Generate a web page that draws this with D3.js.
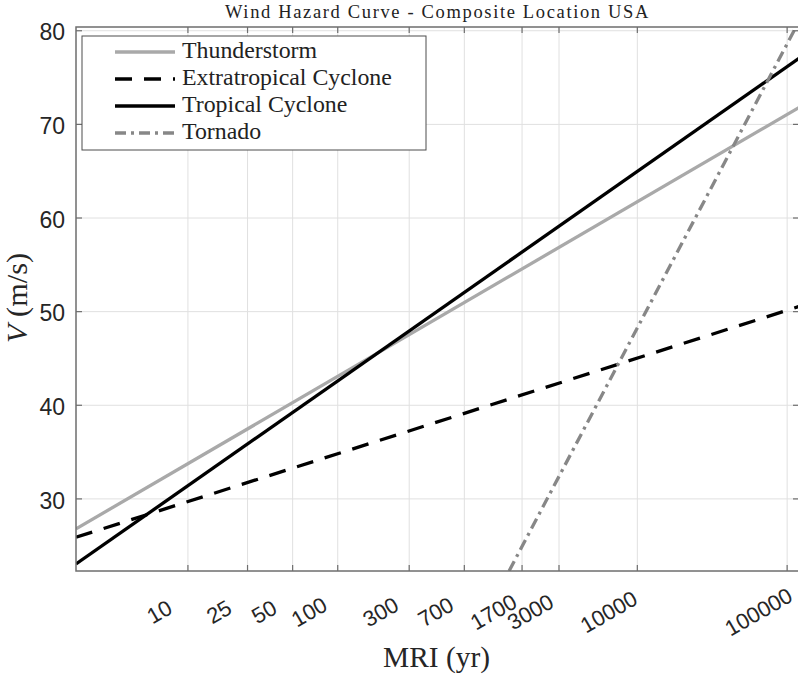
<!DOCTYPE html>
<html>
<head>
<meta charset="utf-8">
<script src="https://cdn.jsdelivr.net/npm/d3@7"></script>
<style>
  html, body { margin: 0; padding: 0; background: #fff; }
  svg { display: block; }
</style>
</head>
<body>
<svg id="chart" width="798" height="677"></svg>
<script>
// ---------------- data ----------------
const xDomain = [1.79, 120000];
const yDomain = [22.3, 80.4];
const xTickValues = [10, 25, 50, 100, 300, 700, 1700, 3000, 10000, 100000];
const xTickLabels = ["10", "25", "50", "100", "300", "700", "1700", "3000", "10000", "100000"];
const yTickValues = [30, 40, 50, 60, 70, 80];
const seriesNames = ["Thunderstorm", "Extratropical Cyclone", "Tropical Cyclone", "Tornado"];
const thunderstormMRI = [1.79, 120000];
const thunderstormV = [26.8, 71.8];
const extratropicalMRI = [1.79, 120000];
const extratropicalV = [25.9, 50.55];
const tropicalMRI = [1.79, 120000];
const tropicalV = [23.05, 77.05];
const tornadoMRI = [1393, 120000];
const tornadoV = [22.3, 81.0];
const titleText = "Wind Hazard Curve - Composite Location USA";

// ---------------- layout / style ----------------
const L = 76, R = 799, T = 27, B = 571;
const styles = [
  { color: "#a9a9a9", dash: null },
  { color: "#000000", dash: "17,12" },
  { color: "#000000", dash: null },
  { color: "#878787", dash: "11,5,3,5" }
];
const seriesData = [
  d3.zip(thunderstormMRI, thunderstormV),
  d3.zip(extratropicalMRI, extratropicalV),
  d3.zip(tropicalMRI, tropicalV),
  d3.zip(tornadoMRI, tornadoV)
];

const svg = d3.select("#chart");
const x = d3.scaleLog().domain(xDomain).range([L, R]);
const y = d3.scaleLinear().domain(yDomain).range([B, T]);

const serif = "'Liberation Serif', 'Times New Roman', serif";
const sans = "'Liberation Sans', Arial, Helvetica, sans-serif";

function fitWidth(sel, w) {
  const n = sel.node();
  const l = n.getComputedTextLength();
  const fs = parseFloat(sel.attr("font-size"));
  const nfs = fs * w / l;
  sel.attr("font-size", nfs);
  return nfs;
}
function spaceToWidth(sel, w) {
  const n = sel.node();
  const l = n.getComputedTextLength();
  const chars = sel.text().length;
  sel.attr("letter-spacing", (w - l) / chars);
}

svg.append("defs").append("clipPath").attr("id", "plotclip")
  .append("rect").attr("x", L).attr("y", T).attr("width", R - L).attr("height", B - T);

// grid
const grid = svg.append("g");
grid.selectAll("line.gx").data(xTickValues).enter().append("line")
  .attr("x1", d => x(d)).attr("x2", d => x(d)).attr("y1", T).attr("y2", B)
  .attr("stroke", "#e0e0e0").attr("stroke-width", 1);
grid.selectAll("line.gy").data(yTickValues).enter().append("line")
  .attr("x1", L).attr("x2", R).attr("y1", d => y(d)).attr("y2", d => y(d))
  .attr("stroke", "#e0e0e0").attr("stroke-width", 1);

// lines
const line = d3.line().x(d => x(d[0])).y(d => y(d[1]));
const lines = svg.append("g").attr("clip-path", "url(#plotclip)");
seriesData.forEach((data, i) => {
  lines.append("path").datum(data).attr("d", line)
    .attr("fill", "none").attr("stroke", styles[i].color)
    .attr("stroke-width", 3.3)
    .attr("stroke-dasharray", styles[i].dash);
});

// axes (box with inward ticks)
const axisColor = "#6e6e6e";
const tickLen = 6;
const ax = svg.append("g");
ax.selectAll("line.tb").data(xTickValues).enter().append("line")
  .attr("x1", d => x(d)).attr("x2", d => x(d)).attr("y1", B).attr("y2", B - tickLen)
  .attr("stroke", axisColor).attr("stroke-width", 1.2);
ax.selectAll("line.tt").data(xTickValues).enter().append("line")
  .attr("x1", d => x(d)).attr("x2", d => x(d)).attr("y1", T).attr("y2", T + tickLen)
  .attr("stroke", axisColor).attr("stroke-width", 1.2);
ax.selectAll("line.tl").data(yTickValues).enter().append("line")
  .attr("x1", L).attr("x2", L + tickLen).attr("y1", d => y(d)).attr("y2", d => y(d))
  .attr("stroke", axisColor).attr("stroke-width", 1.2);
ax.selectAll("line.tr").data(yTickValues).enter().append("line")
  .attr("x1", R).attr("x2", R - tickLen).attr("y1", d => y(d)).attr("y2", d => y(d))
  .attr("stroke", axisColor).attr("stroke-width", 1.2);
ax.append("rect").attr("x", L).attr("y", T).attr("width", R - L).attr("height", B - T)
  .attr("fill", "none").attr("stroke", axisColor).attr("stroke-width", 1.5);

// y tick labels
ax.selectAll("text.yl").data(yTickValues).enter().append("text")
  .attr("x", L - 11).attr("y", d => y(d)).attr("dy", "0.42em")
  .attr("text-anchor", "end").attr("font-family", sans).attr("font-size", 23)
  .attr("fill", "#262626").text(d => d);

// x tick labels (rotated)
ax.selectAll("text.xl").data(xTickValues).enter().append("text")
  .attr("transform", d => `translate(${x(d) - 28.5},612) rotate(-30)`)
  .attr("text-anchor", "middle").attr("dominant-baseline", "central")
  .attr("font-family", sans).attr("font-size", 22)
  .attr("fill", "#262626").text((d, i) => xTickLabels[i]);

// title
const title = svg.append("text").attr("x", 225).attr("y", 18)
  .attr("text-anchor", "start").attr("font-family", serif).attr("font-size", 18.5)
  .attr("fill", "#222").text(titleText);
spaceToWidth(title, 425);

// x label
const xl = svg.append("text").attr("x", 436.5).attr("y", 667)
  .attr("text-anchor", "middle").attr("font-family", serif).attr("font-size", 22)
  .attr("fill", "#262626").text("MRI (yr)");
fitWidth(xl, 107);

// y label
const yl = svg.append("text").attr("transform", "translate(27,298) rotate(-90)")
  .attr("text-anchor", "middle").attr("font-family", serif).attr("font-size", 22)
  .attr("fill", "#262626");
yl.append("tspan").attr("font-style", "italic").text("V");
yl.append("tspan").text(" (m/s)");
fitWidth(yl, 90);

// legend
const lg = svg.append("g");
lg.append("rect").attr("x", 82).attr("y", 36).attr("width", 344).attr("height", 114)
  .attr("fill", "#fff").attr("stroke", "#4d4d4d").attr("stroke-width", 1);
const rowY = [52, 79, 106, 133];
seriesNames.forEach((name, i) => {
  lg.append("line").attr("x1", 115).attr("x2", 175).attr("y1", rowY[i]).attr("y2", rowY[i])
    .attr("stroke", styles[i].color).attr("stroke-width", 3.3)
    .attr("stroke-dasharray", styles[i].dash);
});
const legTexts = seriesNames.map((name, i) =>
  lg.append("text").attr("x", 182).attr("y", rowY[i] + 6)
    .attr("font-family", serif).attr("font-size", 20).attr("fill", "#222").text(name));
const lfs = fitWidth(legTexts[1], 210);
legTexts.forEach(t => t.attr("font-size", lfs));
</script>
</body>
</html>
